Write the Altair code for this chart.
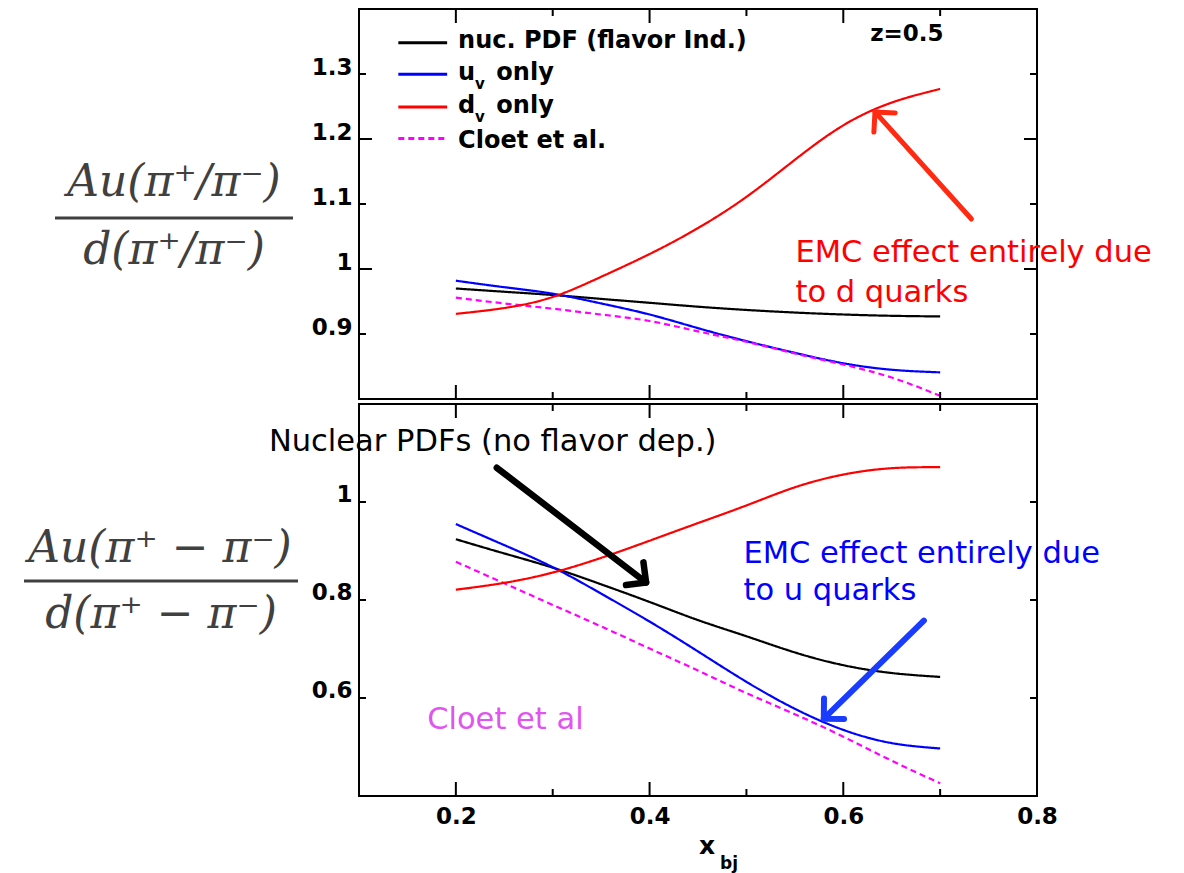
import math
import altair as alt
import pandas as pd

# ---------------- data ----------------
X_BJ = [0.2, 0.25, 0.3, 0.35, 0.4, 0.45, 0.5, 0.55, 0.6, 0.65, 0.7]

SERIES = ["nuc", "uv", "dv", "cloet"]
SERIES_COLORS = ["#000000", "#0000ff", "#ff0000", "#ff00ff"]
SERIES_DASH = [[1, 0], [1, 0], [1, 0], [6, 4]]
SERIES_WIDTH = [2.2, 2.2, 2.2, 2.8]
DRAW_ORDER = ["nuc", "uv", "cloet", "dv"]

# upper panel: Au(pi+/pi-) / d(pi+/pi-)
TOP_NUC = [0.970, 0.965, 0.960, 0.954, 0.948, 0.942, 0.937, 0.933, 0.930, 0.928, 0.927]
TOP_UV = [0.982, 0.972, 0.962, 0.947, 0.930, 0.909, 0.889, 0.871, 0.855, 0.845, 0.841]
TOP_DV = [0.931, 0.940, 0.957, 0.988, 1.023, 1.063, 1.111, 1.168, 1.221, 1.256, 1.277]
TOP_CLOET = [0.956, 0.947, 0.939, 0.930, 0.920, 0.904, 0.888, 0.870, 0.853, 0.833, 0.805]

# lower panel: Au(pi+ - pi-) / d(pi+ - pi-)
BOT_NUC = [0.924, 0.895, 0.866, 0.832, 0.796, 0.759, 0.726, 0.693, 0.667, 0.651, 0.643]
BOT_UV = [0.955, 0.912, 0.867, 0.813, 0.756, 0.695, 0.633, 0.578, 0.535, 0.508, 0.497]
BOT_DV = [0.821, 0.835, 0.856, 0.886, 0.921, 0.957, 0.993, 1.030, 1.056, 1.069, 1.071]
BOT_CLOET = [0.878, 0.834, 0.790, 0.746, 0.701, 0.656, 0.610, 0.567, 0.521, 0.472, 0.426]

# axis labels / ticks
X_LABELS = [0.2, 0.4, 0.6, 0.8]
X_MAJOR = [0.2, 0.4, 0.6]
X_MINOR = [0.3, 0.5, 0.7]
TOP_Y_LABELS = [0.9, 1.0, 1.1, 1.2, 1.3]
TOP_Y_MAJOR = [1.0, 1.2]
TOP_Y_MINOR = [0.9, 1.1, 1.3]
BOT_Y_LABELS = [0.6, 0.8, 1.0]

LEGEND_TEXT = ["nuc. PDF (flavor Ind.)", "u", "d", "Cloet et al."]

# ---------------- layout ----------------
W = 678
H_TOP = 390
H_BOT = 392
XS = alt.Scale(domain=[0.1, 0.8], nice=False, zero=False)
YS_TOP = alt.Scale(domain=[0.8, 1.4], nice=False, zero=False)
YS_BOT = alt.Scale(domain=[0.4, 1.2], nice=False, zero=False)
CS = alt.Scale(domain=SERIES, range=SERIES_COLORS)
DS = alt.Scale(domain=SERIES, range=SERIES_DASH)
WS = alt.Scale(domain=SERIES, range=SERIES_WIDTH)

SANS = "DejaVu Sans"
SERIF = "DejaVu Serif"


def long_df(cols):
    rows = []
    for name, vals in cols.items():
        for x, y in zip(X_BJ, vals):
            rows.append({"series": name, "x": x, "y": y})
    return pd.DataFrame(rows)


top_df = long_df({"nuc": TOP_NUC, "uv": TOP_UV, "dv": TOP_DV, "cloet": TOP_CLOET})
bot_df = long_df({"nuc": BOT_NUC, "uv": BOT_UV, "dv": BOT_DV, "cloet": BOT_CLOET})


def y_axis(values, offset):
    return alt.Axis(values=values, format=".1~f", labelFont=SANS, labelFontWeight="bold",
                    labelFontSize=23, labelColor="black", labelPadding=7, labelOffset=offset,
                    ticks=False, domain=False, grid=False, title=None, labelOverlap=False)


X_AXIS = alt.Axis(values=X_LABELS, format=".1f", labelFont=SANS, labelFontWeight="bold",
                  labelFontSize=23, labelColor="black", labelPadding=9, ticks=False,
                  domain=False, grid=False, title=None, labelFlush=False, labelOverlap=False)

TOP_XAX = None
TOP_YAX = y_axis(TOP_Y_LABELS, -7)
BOT_XAX = X_AXIS
BOT_YAX = y_axis(BOT_Y_LABELS, -8)


class Panel:
    def __init__(self, ys, xax, yax, h):
        self.ys, self.xax, self.yax, self.h = ys, xax, yax, h

    def X(self, f):
        return alt.X(f, scale=XS, axis=self.xax)

    def Y(self, f):
        return alt.Y(f, scale=self.ys, axis=self.yax)


P_TOP = Panel(YS_TOP, TOP_XAX, TOP_YAX, H_TOP)
P_BOT = Panel(YS_BOT, BOT_XAX, BOT_YAX, H_BOT)


def series_layers(df, p):
    out = []
    for s in DRAW_ORDER:
        out.append(
            alt.Chart(df).transform_filter(alt.datum.series == s)
            .mark_line(interpolate="natural")
            .encode(
                x=p.X("x:Q"), y=p.Y("y:Q"),
                color=alt.Color("series:N", scale=CS, legend=None),
                strokeDash=alt.StrokeDash("series:N", scale=DS, legend=None),
                strokeWidth=alt.StrokeWidth("series:N", scale=WS, legend=None),
            )
        )
    return out


def x_ticks(values, length, p):
    base = alt.Chart(pd.DataFrame({"v": values})).mark_rule(color="black", strokeWidth=2)
    return [
        base.encode(x=p.X("v:Q"), y=alt.value(0), y2=alt.value(length)),
        base.encode(x=p.X("v:Q"), y=alt.value(p.h), y2=alt.value(p.h - length)),
    ]


def y_ticks(values, length, p):
    base = alt.Chart(pd.DataFrame({"v": values})).mark_rule(color="black", strokeWidth=2)
    return [
        base.encode(y=p.Y("v:Q"), x=alt.value(0), x2=alt.value(length)),
        base.encode(y=p.Y("v:Q"), x=alt.value(W), x2=alt.value(W - length)),
    ]


def notes(items, p, size, weight="normal", font=SANS):
    df = pd.DataFrame(items, columns=["t", "x", "y", "c"])
    return alt.Chart(df).mark_text(align="left", baseline="alphabetic", font=font,
                                   fontSize=size, fontWeight=weight).encode(
        x=p.X("x:Q"), y=p.Y("y:Q"), text="t:N",
        color=alt.Color("c:N", scale=None),
    )


def arrows(items, p, px_per_y):
    px_per_x = W / 0.7
    rows = []
    for x0, y0, x1, y1, col, sw in items:
        dx = (x1 - x0) * px_per_x
        dy = -(y1 - y0) * px_per_y
        ang = math.degrees(math.atan2(dx, -dy)) % 360
        rows.append({"x0": x0, "y0": y0, "x1": x1, "y1": y1, "c": col, "sw": sw, "ang": ang})
    df = pd.DataFrame(rows)
    shaft = alt.Chart(df).mark_rule(strokeCap="round").encode(
        x=p.X("x0:Q"), y=p.Y("y0:Q"), x2="x1:Q", y2="y1:Q",
        color=alt.Color("c:N", scale=None),
        strokeWidth=alt.StrokeWidth("sw:Q", scale=None),
    )
    head = alt.Chart(df).mark_point(shape="M-1,1L0,0L1,1", filled=False, size=820,
                                    opacity=1, strokeCap="round", strokeJoin="round").encode(
        x=p.X("x1:Q"), y=p.Y("y1:Q"),
        color=alt.Color("c:N", scale=None),
        strokeWidth=alt.StrokeWidth("sw:Q", scale=None),
        angle=alt.Angle("ang:Q", scale=None),
    )
    return [shaft, head]


def pixel_text(text, x, y, size, font=SANS, weight="normal", style="normal",
               color="black", align="left"):
    return alt.Chart(pd.DataFrame({"t": [text]})).mark_text(
        align=align, baseline="alphabetic", font=font, fontSize=size,
        fontWeight=weight, fontStyle=style, color=color).encode(
        x=alt.value(x), y=alt.value(y), text="t:N")


def pixel_bar(x0, x1, y, color="#404040"):
    return alt.Chart(pd.DataFrame({"t": ["bar"]})).mark_rule(color=color, strokeWidth=3).encode(
        x=alt.value(x0), x2=alt.value(x1), y=alt.value(y))


# ---------------- legend (upper panel) ----------------
LEG_X = [0.1406, 0.191]
LEG_LINE_Y = [1.3482, 1.2995, 1.2493, 1.2006]
LEG_TEXT_Y = [1.3406, 1.2904, 1.2402, 1.1869]
leg_df = pd.DataFrame({"series": SERIES, "x0": LEG_X[0], "x1": LEG_X[1], "y": LEG_LINE_Y})
legend_lines = alt.Chart(leg_df).mark_rule(strokeWidth=3).encode(
    x=P_TOP.X("x0:Q"), x2="x1:Q", y=P_TOP.Y("y:Q"),
    color=alt.Color("series:N", scale=CS, legend=None),
    strokeDash=alt.StrokeDash("series:N", scale=DS, legend=None),
)
legend_main = notes([(LEGEND_TEXT[i], 0.2023, LEG_TEXT_Y[i], "black") for i in range(4)]
                    + [("only", 0.2418, LEG_TEXT_Y[1], "black"), ("only", 0.2418, LEG_TEXT_Y[2], "black")],
                    P_TOP, 24, "bold")
legend_sub = notes([("v", 0.2197, 1.2767, "black"), ("v", 0.2197, 1.2265, "black")],
                   P_TOP, 15, "bold")

top_notes_bold = notes([("z=0.5", 0.6278, 1.3513, "black")], P_TOP, 23, "bold")
top_notes = notes([("EMC effect entirely due", 0.5506, 1.0104, "#ff0000"),
                   ("to d quarks", 0.5506, 0.9495, "#ff0000")], P_TOP, 30.5)

bot_notes = notes([("Nuclear PDFs (no flavor dep.)", 0.0070, 1.1038, "#000000"),
                   ("EMC effect entirely due", 0.4970, 0.8765, "#0000ff"),
                   ("to u quarks", 0.4970, 0.7998, "#0000ff"),
                   ("Cloet et al", 0.1704, 0.5373, "#e055f0")], P_BOT, 30.5)

top_arrows = arrows([(0.7323, 1.0769, 0.6327, 1.2417, "#ff2a12", 5)], P_TOP, H_TOP / 0.6)
bot_arrows = arrows([(0.2423, 1.0698, 0.3964, 0.8358, "#000000", 6.5),
                     (0.6832, 0.7579, 0.5799, 0.5577, "#1a3cff", 6)], P_BOT, H_BOT / 0.8)

# y-axis titles drawn as fractions
FRAC_COLOR = "#404040"
top_frac = [
    pixel_text("Au(π⁺/π⁻)", -185, 187, 44, font=SERIF, style="italic", color=FRAC_COLOR, align="center"),
    pixel_bar(-304, -66, 209),
    pixel_text("d(π⁺/π⁻)", -185, 255, 44, font=SERIF, style="italic", color=FRAC_COLOR, align="center"),
]
bot_frac = [
    pixel_text("Au(π⁺ − π⁻)", -199, 158, 44, font=SERIF, style="italic", color=FRAC_COLOR, align="center"),
    pixel_bar(-335, -61, 177),
    pixel_text("d(π⁺ − π⁻)", -198, 224, 44, font=SERIF, style="italic", color=FRAC_COLOR, align="center"),
]
x_title = [
    pixel_text("x", 340, 450, 25, weight="bold"),
    pixel_text("bj", 361, 465, 17, weight="bold"),
]

top = alt.layer(
    *series_layers(top_df, P_TOP),
    *x_ticks(X_MAJOR, 14, P_TOP), *x_ticks(X_MINOR, 7, P_TOP),
    *y_ticks(TOP_Y_MAJOR, 13, P_TOP), *y_ticks(TOP_Y_MINOR, 7, P_TOP),
    legend_lines, legend_main, legend_sub, top_notes_bold, top_notes,
    *top_arrows, *top_frac,
).properties(width=W, height=H_TOP)

bottom = alt.layer(
    *series_layers(bot_df, P_BOT),
    *x_ticks(X_MAJOR, 14, P_BOT), *x_ticks(X_MINOR, 7, P_BOT),
    *y_ticks(BOT_Y_LABELS, 7, P_BOT),
    bot_notes, *bot_arrows, *bot_frac, *x_title,
).properties(width=W, height=H_BOT)

chart = alt.vconcat(top, bottom, spacing=0).properties(
    padding={"left": 13, "top": -1, "right": 10, "bottom": 5}
).configure_view(stroke="#000000", strokeWidth=2)

chart.save("out.html", embed_options={"renderer": "svg", "actions": False})
